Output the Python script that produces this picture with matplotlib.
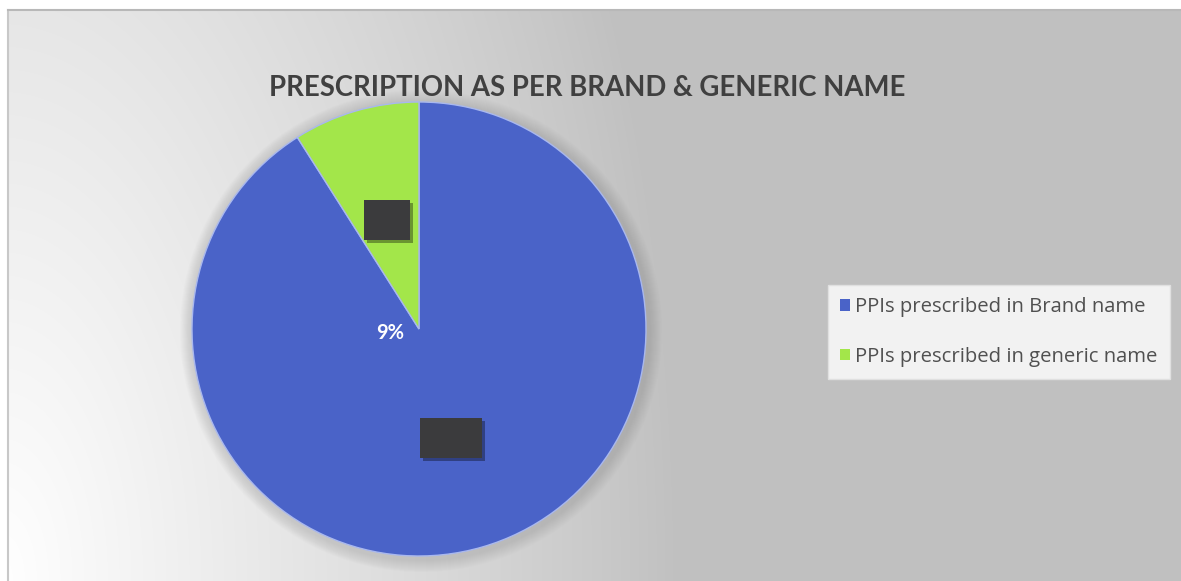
import numpy as np
import matplotlib
matplotlib.use("Agg")
import matplotlib.pyplot as plt
from matplotlib.patches import Rectangle, Circle

# Share of PPI prescriptions
labels = ["PPIs prescribed in Brand name", "PPIs prescribed in generic name"]
shares = [91, 9]
colors = ["#4a63c8", "#a3e64a"]
title = "PRESCRIPTION AS PER BRAND & GENERIC NAME"
stray_label = "9%"

W, H = 1181, 581
fig = plt.figure(figsize=(W / 100, H / 100), dpi=100)
fig.patch.set_facecolor("white")
ax = fig.add_axes([0, 0, 1, 1])
ax.set_xlim(0, W)
ax.set_ylim(0, H)
ax.set_aspect("equal")
ax.axis("off")

# Chart-area background: light at lower left fading to flat grey
x0, x1, y0, y1 = 8, W, 0, 571
gx, gy = np.meshgrid(np.linspace(x0, x1, 600), np.linspace(y0, y1, 300))
d = np.sqrt((gx / 680.0) ** 2 + (gy / 1350.0) ** 2)
d = np.clip(d, 0, 1)
val = 0.753 + (1.0 - 0.753) * (1 - d) ** 0.9
img = np.dstack([val, val, val])
ax.imshow(img, extent=(x0, x1, y0, y1), origin="lower", interpolation="bilinear", zorder=0)
ax.plot([x0, x0], [y0, y1], color="#c8c8c8", lw=1.5, zorder=1)
ax.plot([x0, x1], [y1, y1], color="#b8b8b8", lw=1.5, zorder=1)

cx, cy, r = 419, 252, 227

# soft shadow halo around the pie
for k in range(12):
    ax.add_patch(Circle((cx + 2, cy - 2), r + 14 - k, facecolor="#808080",
                        edgecolor="none", alpha=0.025, zorder=2))

wedges, _ = ax.pie(shares, colors=colors, startangle=90, counterclock=False,
                   center=(cx, cy), radius=r, frame=True,
                   wedgeprops=dict(edgecolor="#a9b8ee", linewidth=1.0, zorder=3))
ax.set_xlim(0, W)
ax.set_ylim(0, H)
ax.axis("off")

# obscured data labels at the middle of each wedge
box_sizes = [(62, 40), (46, 40)]
for w, (bw, bh) in zip(wedges, box_sizes):
    ang = np.deg2rad((w.theta1 + w.theta2) / 2)
    px = cx + 0.5 * r * np.cos(ang)
    py = cy + 0.5 * r * np.sin(ang)
    ax.add_patch(Rectangle((px - bw / 2 + 3, py - bh / 2 - 3), bw, bh,
                           facecolor="#000000", alpha=0.35, edgecolor="none", zorder=4))
    ax.add_patch(Rectangle((px - bw / 2, py - bh / 2), bw, bh,
                           facecolor="#3b3b3d", edgecolor="none", zorder=5))

ax.text(cx - 29, cy - 4, stray_label, color="white", fontsize=14.5, fontweight="bold",
        family="Lato", ha="center", va="center", zorder=6)

ax.text(587, 493, title, color="#404040", fontsize=19.8, fontweight="bold",
        family="Lato", ha="center", va="center", zorder=6)

leg = ax.legend(wedges, labels, loc="upper left",
                bbox_to_anchor=(828 / W, 1 - 285 / H), bbox_transform=fig.transFigure,
                frameon=True, fancybox=False, facecolor="#f2f2f2", edgecolor="#e0e0e0",
                framealpha=1.0, prop=dict(family="Open Sans", size=14.6),
                handlelength=0.5, handleheight=0.5, handletextpad=0.25,
                labelspacing=1.45, borderpad=0.6, borderaxespad=0)
for t in leg.get_texts():
    t.set_color("#505050")
for h in leg.legend_handles:
    h.set_edgecolor("none")

fig.savefig("out.png", dpi=100, facecolor="white")
